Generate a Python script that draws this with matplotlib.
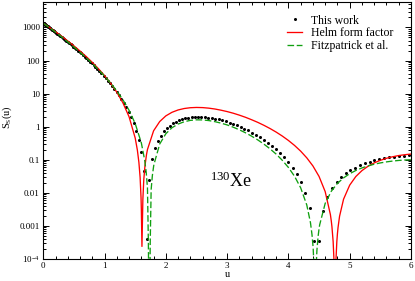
import numpy as np
import matplotlib
matplotlib.use('Agg')
import matplotlib.pyplot as plt
from matplotlib.ticker import FixedLocator, FixedFormatter, LogLocator, NullFormatter, MultipleLocator

# ---- Helm form factor (red line) ----
helm_u = [0, 0.1, 0.2, 0.3, 0.4, 0.5, 0.6, 0.7, 0.8, 0.9, 1.0, 1.1, 1.2, 1.3, 1.4, 1.5,
          1.535, 1.56, 1.58, 1.595, 1.6, 1.61, 1.625, 1.64, 1.66, 1.685, 1.7,
          1.8, 1.9, 2.0, 2.1, 2.2, 2.3, 2.4, 2.5, 2.6, 2.7, 2.8, 2.9, 3.0, 3.1, 3.2, 3.3,
          3.4, 3.5, 3.6, 3.7, 3.8, 3.9, 4.0, 4.1, 4.2, 4.3, 4.4, 4.5, 4.6,
          4.685, 4.7, 4.71, 4.73, 4.745, 4.76, 4.775, 4.79, 4.8, 4.81, 4.835,
          4.9, 5.0, 5.1, 5.2, 5.3, 5.4, 5.5, 5.6, 5.7, 5.8, 5.9, 6.0]
helm_s = [1345, 1004, 741, 541, 390, 277, 193, 132, 87.7, 56.5, 34.9, 20.4, 11, 5.22, 1.99, 0.453,
          0.197, 0.084, 0.0293, 0.00725, 0.00325, 0.00024, 0.00636, 0.0252, 0.0677, 0.146, 0.204,
          0.75, 1.43, 2.12, 2.72, 3.2, 3.54, 3.74, 3.81, 3.77, 3.63, 3.42, 3.15, 2.86, 2.55, 2.23, 1.92,
          1.62, 1.35, 1.1, 0.879, 0.686, 0.521, 0.383, 0.271, 0.182, 0.114, 0.0649, 0.0313, 0.0109,
          0.00221, 0.00139, 0.000956, 0.000335, 8.05e-05, 5e-08, 8.65e-05, 0.000333, 0.000583, 0.0009, 0.00197,
          0.00643, 0.0171, 0.0311, 0.047, 0.0638, 0.0804, 0.0962, 0.111, 0.123, 0.134, 0.142, 0.149]

# ---- Fitzpatrick et al. (green dashed) ----
fitz_u = [0, 0.1, 0.2, 0.3, 0.4, 0.5, 0.6, 0.7, 0.8, 0.9, 1.0, 1.1, 1.2, 1.3, 1.4, 1.5, 1.6,
          1.655, 1.68, 1.7, 1.715, 1.73, 1.745, 1.76, 1.78, 1.8, 1.805,
          1.9, 2.0, 2.1, 2.2, 2.3, 2.4, 2.5, 2.6, 2.7, 2.8, 2.9, 3.0, 3.1, 3.2, 3.3, 3.4, 3.5,
          3.6, 3.7, 3.8, 3.9, 4.0, 4.1, 4.2, 4.3,
          4.36, 4.385, 4.4, 4.405, 4.42, 4.435, 4.45, 4.465, 4.485, 4.5, 4.51,
          4.6, 4.7, 4.8, 4.9, 5.0, 5.1, 5.2, 5.3, 5.4, 5.5, 5.6, 5.7, 5.8, 5.9, 6.0]
fitz_s = [1345, 987, 716, 515, 366, 257, 178, 122, 81.4, 53.2, 33.8, 20.6, 12, 6.46, 3.12, 1.24, 0.324,
          0.0965, 0.0408, 0.0141, 0.0003, 1e-07, 0.0003, 0.0125, 0.0333, 0.0626, 0.0711,
          0.3, 0.613, 0.929, 1.2, 1.41, 1.55, 1.61, 1.6, 1.53, 1.42, 1.28, 1.13, 0.964, 0.803, 0.653, 0.517, 0.398,
          0.297, 0.214, 0.148, 0.0964, 0.0585, 0.0317, 0.0142, 0.00428,
          0.00125, 0.000542, 0.000262, 0.000191, 4.72e-05, 1e-07, 4.58e-05, 0.000181, 0.000493, 0.00082, 0.00108,
          0.0048, 0.0112, 0.0193, 0.0283, 0.0379, 0.0474, 0.0566, 0.0653, 0.0732, 0.0802, 0.0862, 0.0913, 0.0953,
          0.0983, 0.1]

# ---- This work (dots), sampled on a uniform momentum grid ----
q_step = 0.01      # fm^-1
b_osc = 2.417      # fm
this_work_s = [1350, 1350, 1350, 1340, 1330, 1320, 1310, 1290, 1270, 1250,
               1230, 1210, 1180, 1160, 1130, 1100, 1070, 1040, 1000, 968,
               934, 898, 863, 827, 791, 755, 719, 683, 648, 613,
               579, 545, 512, 480, 449, 419, 390, 362, 335, 310,
               285, 262, 240, 219, 199, 181, 163, 147, 132, 118,
               105, 93.1, 82.2, 72.2, 63.1, 54.9, 47.4, 40.7, 34.8, 29.4,
               24.7, 20.6, 17, 13.8, 11.1, 8.81, 6.86, 5.23, 3.89, 2.8,
               1.93, 1.26, 0.762, 0.406, 0.174, 0.0447, 0.000403, 0.0247, 0.103, 0.222,
               0.371, 0.539, 0.717, 0.899, 1.08, 1.25, 1.41, 1.55, 1.67, 1.77,
               1.85, 1.91, 1.95, 1.96, 1.95, 1.92, 1.88, 1.82, 1.74, 1.65,
               1.55, 1.44, 1.33, 1.22, 1.1, 0.987, 0.875, 0.767, 0.665, 0.569,
               0.48, 0.399, 0.327, 0.262, 0.206, 0.158, 0.118, 0.0843, 0.0574, 0.0364,
               0.0209, 0.0101, 0.00342, 0.000357, 0.000339, 0.00286, 0.00747, 0.0137, 0.0213, 0.0298,
               0.0389, 0.0485, 0.0582, 0.0679, 0.0774, 0.0865, 0.0952, 0.103, 0.111, 0.118,
               0.124, 0.129, 0.133, 0.137]
q = np.arange(len(this_work_s)) * q_step
this_work_u = (q * b_osc) ** 2 / 2

ytick_vals = [1e-4, 1e-3, 1e-2, 1e-1, 1, 10, 100, 1000]
ytick_labels = ['$10^{-4}$', '0.001', '0.01', '0.1', '1', '10', '100', '1000']

plt.rcParams['font.family'] = ['Liberation Serif']
plt.rcParams['mathtext.fontset'] = 'custom'
plt.rcParams['mathtext.rm'] = 'Liberation Serif'
plt.rcParams['mathtext.it'] = 'Liberation Serif:italic'

fig = plt.figure(figsize=(4.15, 2.81), dpi=100)
ax = fig.add_axes([0.1043, 0.0783, 0.886, 0.9157])
ax.plot(this_work_u, this_work_s, 'o', color='black', ms=2.2, mew=0, label='This work')
ax.plot(helm_u, helm_s, '-', color='#ff0000', lw=0.95, label='Helm form factor')
ax.plot(fitz_u, fitz_s, '--', color='#10a010', lw=0.95, dashes=(5, 2), label='Fitzpatrick et al.')
ax.set_yscale('log')
ax.set_xlim(0, 6)
ax.set_ylim(1e-4, 6000)
ax.yaxis.set_major_locator(FixedLocator(ytick_vals))
ax.yaxis.set_major_formatter(FixedFormatter(ytick_labels))
ax.yaxis.set_minor_locator(LogLocator(base=10, subs=np.arange(2, 10), numticks=20))
ax.yaxis.set_minor_formatter(NullFormatter())
ax.xaxis.set_major_locator(MultipleLocator(1))
ax.xaxis.set_minor_locator(MultipleLocator(0.2))
ax.tick_params(which='both', direction='in', top=True, right=True, labelsize=6.5, width=0.7)
ax.tick_params(which='major', length=4, pad=2.5)
ax.tick_params(which='minor', length=2)
ax.set_xlabel('u', fontsize=7.5, labelpad=0)
ax.set_ylabel('S$_{\\mathrm{S}}$(u)', fontsize=7.5)
ax.yaxis.set_label_coords(-0.08, 0.55)
ax.text(0.453, 0.28, '$^{130}$Xe', transform=ax.transAxes, fontsize=13, ha='left', va='baseline')
ax.legend(loc='upper left', bbox_to_anchor=(287 / 415, 1 - 14.5 / 281), bbox_transform=fig.transFigure,
          frameon=False, fontsize=8.5, borderpad=0, borderaxespad=0, labelspacing=0.05,
          handlelength=1.3, handletextpad=0.7, markerscale=1.0)
fig.savefig('out.png')
